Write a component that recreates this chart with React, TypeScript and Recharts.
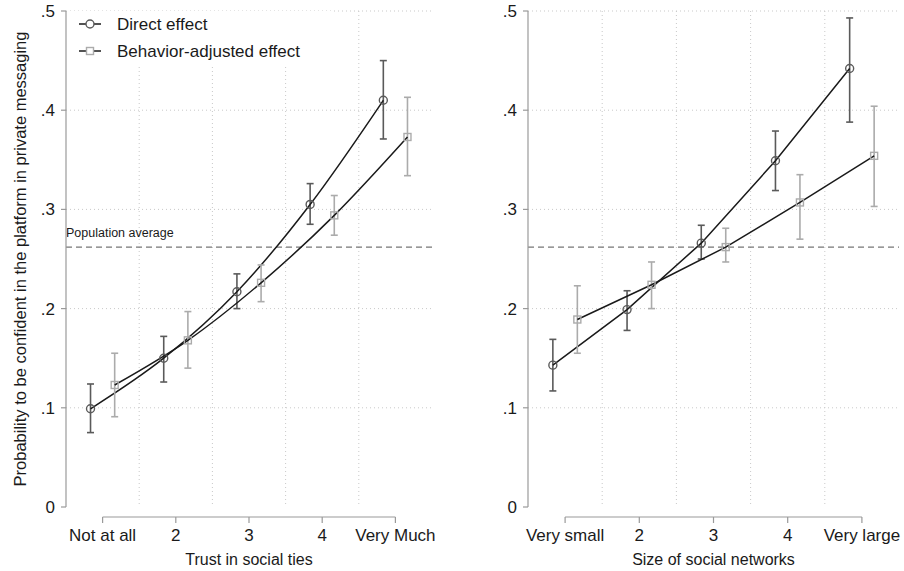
import React from 'react';
import { LineChart, Line, XAxis, YAxis, CartesianGrid, ReferenceLine, ErrorBar, Legend } from 'recharts';

// ---- data ----
const categories = [1, 2, 3, 4, 5];
const trustLabels = ['Not at all', '2', '3', '4', 'Very Much'];
const sizeLabels = ['Very small', '2', '3', '4', 'Very large'];
const yTicks = [0, 0.1, 0.2, 0.3, 0.4, 0.5];
const gridY = [0.1, 0.2, 0.3, 0.4, 0.5];
const gridX = [1.5, 2.5, 3.5, 4.5];
const populationAverage = 0.262;
const seriesNames = ['Direct effect', 'Behavior-adjusted effect'];

const trustDirect = [0.099, 0.150, 0.217, 0.305, 0.410];
const trustDirectLo = [0.075, 0.126, 0.200, 0.285, 0.371];
const trustDirectHi = [0.124, 0.172, 0.235, 0.326, 0.450];
const trustAdjusted = [0.123, 0.168, 0.226, 0.294, 0.373];
const trustAdjustedLo = [0.091, 0.140, 0.207, 0.274, 0.334];
const trustAdjustedHi = [0.155, 0.197, 0.244, 0.314, 0.413];

const sizeDirect = [0.143, 0.199, 0.266, 0.349, 0.442];
const sizeDirectLo = [0.117, 0.178, 0.250, 0.319, 0.388];
const sizeDirectHi = [0.169, 0.218, 0.284, 0.379, 0.493];
const sizeAdjusted = [0.189, 0.224, 0.262, 0.307, 0.354];
const sizeAdjustedLo = [0.155, 0.200, 0.247, 0.270, 0.303];
const sizeAdjustedHi = [0.223, 0.247, 0.281, 0.335, 0.404];

// ---- layout / style ----
const OFFSET = 0.165;
const FONT = '"Liberation Sans", Arial, Helvetica, sans-serif';
const AXIS_GREY = '#9a9a9a';
const TEXT = '#1a1a1a';
const LINE = '#1a1a1a';
const DIRECT_C = '#5a5a5a';
const ADJ_C = '#ababab';

type Pt = { x: number; y: number; err: number[] };
function build(vals: number[], lo: number[], hi: number[], shift: number): Pt[] {
  return categories.map((c, i) => ({ x: c + shift, y: vals[i], err: [vals[i] - lo[i], hi[i] - vals[i]] }));
}

const XTick = (props: any) => {
  const { x, y, payload, labels } = props;
  return (
    <g>
      <line x1={x} x2={x} y1={y + 10} y2={y + 16} stroke={AXIS_GREY} strokeWidth={1.2} />
      <text x={x} y={y + 34} textAnchor="middle" fontSize={17} fill={TEXT} fontFamily={FONT}>
        {labels[payload.value - 1]}
      </text>
    </g>
  );
};

const circleDot = (p: any) => (
  <circle key={`c-${p.index}`} cx={p.cx} cy={p.cy} r={4} fill="none" stroke={DIRECT_C} strokeWidth={1.4} />
);
const squareDot = (p: any) => (
  <rect key={`s-${p.index}`} x={p.cx - 3.5} y={p.cy - 3.5} width={7} height={7} fill="none" stroke={ADJ_C} strokeWidth={1.4} />
);

const LegendContent = () => (
  <svg width={266} height={54} style={{ display: 'block' }}>
    <rect x={0} y={0} width={266} height={54} fill="#fff" />
    <line x1={12} x2={34} y1={13} y2={13} stroke={LINE} strokeWidth={1.5} />
    <circle cx={23} cy={13} r={4} fill="#fff" stroke={DIRECT_C} strokeWidth={1.4} />
    <text x={50} y={19} fontSize={17} fill={TEXT} fontFamily={FONT}>{seriesNames[0]}</text>
    <line x1={12} x2={34} y1={40} y2={40} stroke={LINE} strokeWidth={1.5} />
    <rect x={19.5} y={36.5} width={7} height={7} fill="#fff" stroke={ADJ_C} strokeWidth={1.4} />
    <text x={50} y={46} fontSize={17} fill={TEXT} fontFamily={FONT}>{seriesNames[1]}</text>
  </svg>
);

function Panel(props: {
  direct: Pt[]; adjusted: Pt[]; labels: string[]; title: string; yTitle?: string;
  legend?: boolean; popLabel?: boolean; left: number; yWidth: number; right: number; curve: 'monotone' | 'linear';
}) {
  const { direct, adjusted, labels, title, yTitle, legend, popLabel, left, yWidth, right, curve } = props;
  return (
    <LineChart width={452} height={571} margin={{ top: 11, right, bottom: 4, left }}>
      <CartesianGrid stroke="#c9c9c9" strokeDasharray="1 3" horizontalValues={gridY} verticalValues={gridX} />
      <XAxis
        type="number" dataKey="x" domain={[0.5, 5.5]} ticks={categories} allowDataOverflow interval={0}
        axisLine={false} tickLine={false} tickSize={0} tickMargin={0} height={60}
        tick={<XTick labels={labels} />}
        label={{ value: title, position: 'insideBottom', offset: 2, fontSize: 16, fill: TEXT, fontFamily: FONT }}
      />
      <YAxis
        type="number" domain={[0, 0.5]} ticks={yTicks} allowDataOverflow width={yWidth} interval={0}
        axisLine={{ stroke: AXIS_GREY, strokeWidth: 1.2 }} tickLine={{ stroke: AXIS_GREY, strokeWidth: 1.2 }}
        tickSize={5} tickMargin={6}
        tick={{ fontSize: 17, fill: TEXT, fontFamily: FONT }}
        tickFormatter={(v: number) => (v === 0 ? '0' : v.toFixed(1).replace('0.', '.'))}
        label={yTitle ? { value: yTitle, angle: -90, position: 'insideLeft', offset: 10, fontSize: 16.5, fill: TEXT, fontFamily: FONT, style: { textAnchor: 'middle' } } : undefined}
      />
      <ReferenceLine
        y={populationAverage} stroke="#777" strokeDasharray="6 4" strokeWidth={1.2}
        label={popLabel ? (lp: any) => (
          <text x={lp.viewBox.x} y={lp.viewBox.y - 10} fontSize={12.5} fill={TEXT} fontFamily={FONT}>Population average</text>
        ) : undefined}
      />
      <ReferenceLine segment={[{ x: 1, y: -0.0101 }, { x: 5, y: -0.0101 }]} ifOverflow="visible" stroke={AXIS_GREY} strokeWidth={1.2} />
      <Line data={direct} dataKey="y" type={curve} stroke={LINE} strokeWidth={1.5} dot={circleDot} activeDot={false} isAnimationActive={false}>
        <ErrorBar dataKey="err" direction="y" width={3.5} stroke={DIRECT_C} strokeWidth={1.6} isAnimationActive={false} />
      </Line>
      <Line data={adjusted} dataKey="y" type={curve} stroke={LINE} strokeWidth={1.5} dot={squareDot} activeDot={false} isAnimationActive={false}>
        <ErrorBar dataKey="err" direction="y" width={3.5} stroke={ADJ_C} strokeWidth={1.6} isAnimationActive={false} />
      </Line>
      {legend ? (
        <Legend layout="vertical" align="center" verticalAlign="middle" content={<LegendContent />}
          wrapperStyle={{ position: 'absolute', left: 67, top: 11, width: 266, height: 54 }} />
      ) : null}
    </LineChart>
  );
}

export default function App() {
  return (
    <div style={{ position: 'absolute', left: 0, top: 0, width: 904, height: 571, background: '#fff', fontFamily: FONT }}>
      <div style={{ position: 'absolute', left: 0, top: 0 }}>
        <Panel
          direct={build(trustDirect, trustDirectLo, trustDirectHi, -OFFSET)}
          adjusted={build(trustAdjusted, trustAdjustedLo, trustAdjustedHi, OFFSET)}
          labels={trustLabels} title="Trust in social ties"
          yTitle="Probability to be confident in the platform in private messaging"
          legend popLabel left={10} yWidth={56} right={20} curve="monotone"
        />
      </div>
      <div style={{ position: 'absolute', left: 452, top: 0 }}>
        <Panel
          direct={build(sizeDirect, sizeDirectLo, sizeDirectHi, -OFFSET)}
          adjusted={build(sizeAdjusted, sizeAdjustedLo, sizeAdjustedHi, OFFSET)}
          labels={sizeLabels} title="Size of social networks"
          left={10} yWidth={66} right={5} curve="linear"
        />
      </div>
    </div>
  );
}
